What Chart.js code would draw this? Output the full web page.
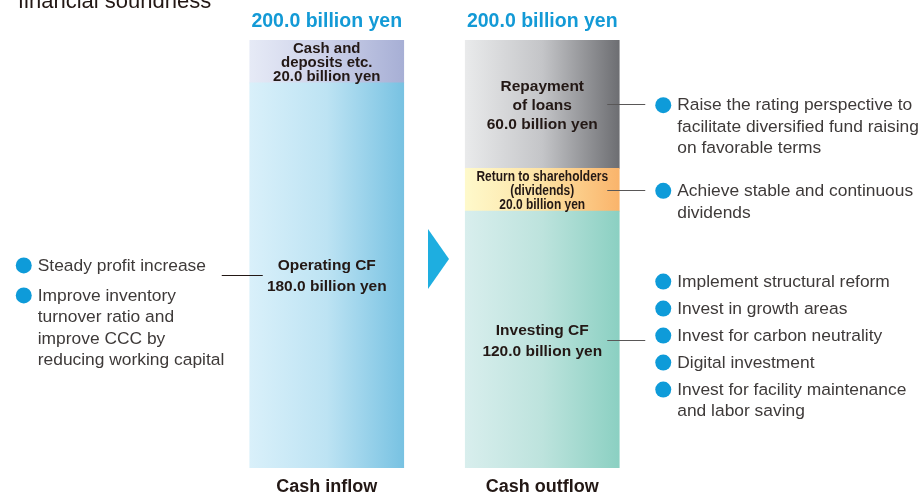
<!DOCTYPE html>
<html>
<head>
<meta charset="utf-8">
<script src="https://cdn.jsdelivr.net/npm/chart.js@4.4.1/dist/chart.umd.min.js"></script>
<style>
  html, body { margin: 0; padding: 0; background: #ffffff; }
  #wrap { width: 920px; height: 494px; position: relative; overflow: hidden; }
</style>
</head>
<body>
<div id="wrap"><canvas id="c" width="920" height="494"></canvas></div>
<script>
// ---------- data ----------
const categories = ['Cash inflow', 'Cash outflow'];
const totals = [200.0, 200.0];
const operatingCF = [180.0, null];
const investingCF = [null, 120.0];
const cashAndDeposits = [20.0, null];
const dividends = [null, 20.0];
const loanRepayment = [null, 60.0];

const headerText = 'financial soundness';
const unit = 'billion yen';

const labelOperating = ['Operating CF'];
const labelInvesting = ['Investing CF'];
const labelCash = ['Cash and', 'deposits etc.'];
const labelDividends = ['Return to shareholders', '(dividends)'];
const labelRepayment = ['Repayment', 'of loans'];

const notesOperating = [['Steady profit increase'], ['Improve inventory', 'turnover ratio and', 'improve CCC by', 'reducing working capital']];
const notesInvesting = [['Implement structural reform'], ['Invest in growth areas'], ['Invest for carbon neutrality'], ['Digital investment'], ['Invest for facility maintenance', 'and labor saving']];
const notesDividends = [['Achieve stable and continuous', 'dividends']];
const notesRepayment = [['Raise the rating perspective to', 'facilitate diversified fund raising', 'on favorable terms']];

// ---------- styling ----------
const FONT = "'Liberation Sans', Arial, Helvetica, sans-serif";
const DARK = '#231815';
const NOTE = '#3e3a39';
const BLUE = '#139ad6';
const BAR_W = 154;

function grad(stops) {
  return (ctx) => {
    const chart = ctx.chart;
    if (!chart.chartArea) return stops[stops.length - 1];
    const cx = chart.scales.x.getPixelForValue(ctx.dataIndex);
    const g = chart.ctx.createLinearGradient(cx - BAR_W / 2, 0, cx + BAR_W / 2, 0);
    stops.forEach((c, i) => g.addColorStop(i / (stops.length - 1), c));
    return g;
  };
}

const segs = [
  { label: 'Operating CF', data: operatingCF, colors: ['#d9f0fa', '#bde3f3', '#78c2e2'], lines: labelOperating, size: 15.5, squeeze: 1, notes: notesOperating, side: 'left', firstOffset: -11, gap: 30 },
  { label: 'Investing CF', data: investingCF, colors: ['#d8eeed', '#bde3dd', '#8bd0c2'], lines: labelInvesting, size: 15.5, squeeze: 1, notes: notesInvesting, side: 'right', firstOffset: -59, gap: 27 },
  { label: 'Cash and deposits etc.', data: cashAndDeposits, colors: ['#e6eaf6', '#ccd1e9', '#a7afd5'], lines: labelCash, size: 15.5, squeeze: 1, notes: null },
  { label: 'Return to shareholders (dividends)', data: dividends, colors: ['#fef9cb', '#fde2a3', '#fab46b'], lines: labelDividends, size: 15, squeeze: 0.8, notes: notesDividends, side: 'right', firstOffset: 0, gap: 22 },
  { label: 'Repayment of loans', data: loanRepayment, colors: ['#e9eaeb', '#c4c5c8', '#6d6e72'], lines: labelRepayment, size: 15.5, squeeze: 1, notes: notesRepayment, side: 'right', firstOffset: 0, gap: 22 }
];

const datasets = segs.map(s => ({
  label: s.label,
  data: s.data,
  backgroundColor: grad(s.colors),
  borderWidth: 0,
  barThickness: BAR_W
}));

function fillCentered(ctx, text, x, cy, size, squeeze) {
  if (squeeze && squeeze < 1) {
    const w = ctx.measureText(text).width * squeeze;
    ctx.fillText(text, x, cy + size * 0.36, w);
  } else {
    ctx.fillText(text, x, cy + size * 0.36);
  }
}

const annotPlugin = {
  id: 'annot',
  afterDatasetsDraw(chart) {
    const ctx = chart.ctx;
    const xs = chart.scales.x;
    const area = chart.chartArea;
    ctx.save();

    // header (cut off at top)
    ctx.fillStyle = DARK;
    ctx.textAlign = 'left';
    ctx.textBaseline = 'alphabetic';
    ctx.font = `22px ${FONT}`;
    ctx.fillText(headerText, 18, 8);

    // totals above each bar
    ctx.fillStyle = BLUE;
    ctx.textAlign = 'center';
    ctx.font = `bold 19.5px ${FONT}`;
    categories.forEach((c, i) => {
      fillCentered(ctx, totals[i].toFixed(1) + ' ' + unit, xs.getPixelForValue(i), area.top - 20, 19.5);
    });

    // arrow between bars
    const mid = (xs.getPixelForValue(0) + xs.getPixelForValue(1)) / 2;
    const ay = area.top + 219;
    ctx.fillStyle = '#1eaee0';
    ctx.beginPath();
    ctx.moveTo(mid - 6.5, ay - 30);
    ctx.lineTo(mid + 14.5, ay);
    ctx.lineTo(mid - 6.5, ay + 30);
    ctx.closePath();
    ctx.fill();

    // segment labels and notes
    segs.forEach((s, di) => {
      const meta = chart.getDatasetMeta(di);
      s.data.forEach((v, idx) => {
        if (v === null || v === undefined) return;
        const el = meta.data[idx];
        const top = Math.min(el.y, el.base), bot = Math.max(el.y, el.base);
        const h = bot - top;
        const cy = (top + bot) / 2;
        const lines = s.lines.concat([v.toFixed(1) + ' ' + unit]);
        let spacing = lines.length === 2 ? 21 : 19;
        spacing = Math.min(spacing, h / lines.length);
        const size = Math.min(s.size, spacing * 1.05);
        ctx.fillStyle = DARK;
        ctx.textAlign = 'center';
        ctx.font = `bold ${size}px ${FONT}`;
        lines.forEach((t, li) => {
          const ly = cy + (li - (lines.length - 1) / 2) * spacing;
          fillCentered(ctx, t, el.x, ly, size, s.squeeze);
        });

        if (!s.notes) return;
        const barL = el.x - BAR_W / 2, barR = el.x + BAR_W / 2;
        ctx.lineWidth = 1;
        ctx.strokeStyle = s.side === 'left' ? DARK : '#595757';
        ctx.beginPath();
        if (s.side === 'left') {
          ctx.moveTo(barL - 28, Math.round(cy) + 0.5);
          ctx.lineTo(barL + 13, Math.round(cy) + 0.5);
        } else {
          ctx.moveTo(barR - 12, Math.round(cy) + 0.5);
          ctx.lineTo(barR + 26, Math.round(cy) + 0.5);
        }
        ctx.stroke();

        const circX = s.side === 'left' ? barL - 226 : barR + 44;
        const textX = s.side === 'left' ? barL - 212 : barR + 58;
        const ns = 17.4, lh = 21.5;
        let y = cy + s.firstOffset;
        ctx.font = `${ns}px ${FONT}`;
        ctx.textAlign = 'left';
        s.notes.forEach((item) => {
          ctx.fillStyle = '#0e9bd9';
          ctx.beginPath();
          ctx.arc(circX, y + 1, 8, 0, Math.PI * 2);
          ctx.fill();
          ctx.fillStyle = NOTE;
          item.forEach((t, li) => {
            fillCentered(ctx, t, textX, y + li * lh, ns);
          });
          y += (item.length - 1) * lh + s.gap;
        });
      });
    });
    ctx.restore();
  }
};

new Chart(document.getElementById('c'), {
  type: 'bar',
  data: { labels: categories, datasets },
  options: {
    responsive: false,
    devicePixelRatio: 1,
    animation: false,
    layout: { padding: { left: 219, right: 270, top: 40, bottom: -12 } },
    plugins: { legend: { display: false }, tooltip: { enabled: false } },
    scales: {
      x: {
        stacked: true,
        offset: true,
        grid: { display: false, drawTicks: false },
        border: { display: false },
        ticks: { color: DARK, padding: 10, font: { family: FONT, size: 18, weight: 'bold', lineHeight: 1 } }
      },
      y: { stacked: true, display: false, min: 0, max: 200 }
    }
  },
  plugins: [annotPlugin]
});
</script>
</body>
</html>
